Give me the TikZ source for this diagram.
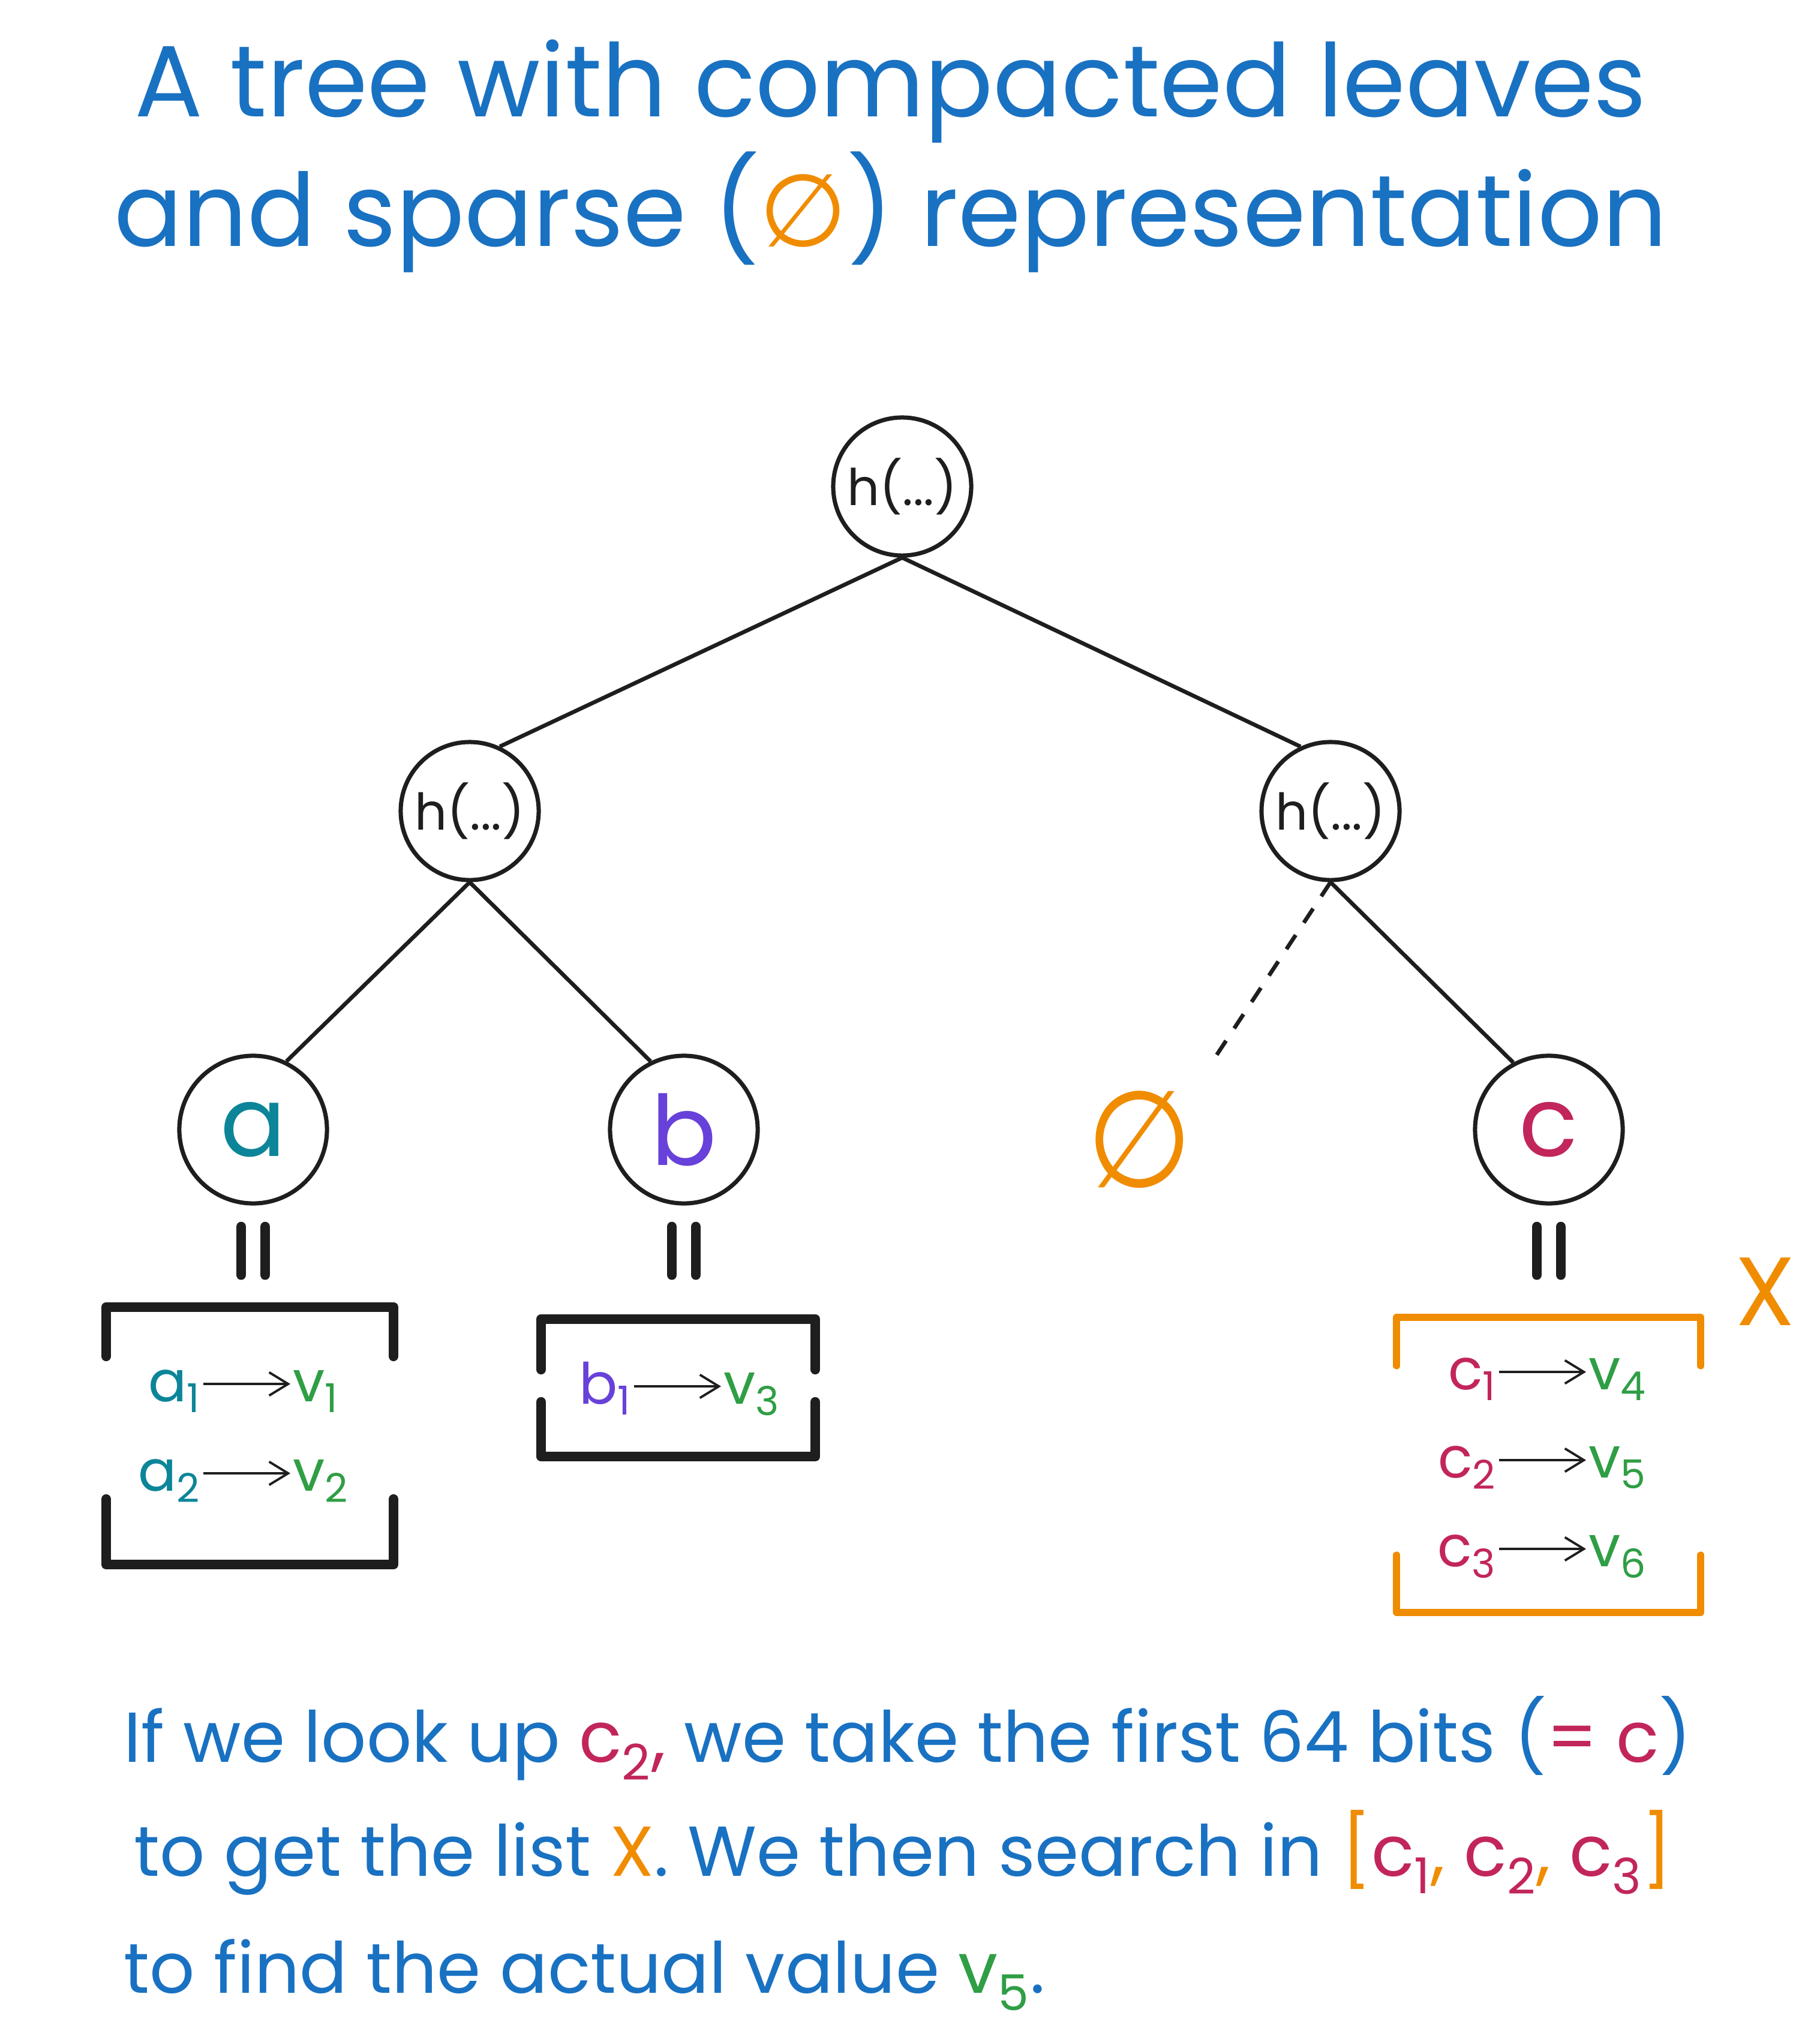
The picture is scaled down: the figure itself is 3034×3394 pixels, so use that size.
\documentclass[tikz,border=0pt]{standalone}
\usepackage{fontspec}
\setmainfont{Poppins}
\newfontfamily\dejavu{DejaVu Sans}
\usetikzlibrary{positioning,arrows.meta}
\definecolor{inkblue}{HTML}{1971C2}
\definecolor{inkorange}{HTML}{F08C00}
\definecolor{inkteal}{HTML}{0C8599}
\definecolor{inkviolet}{HTML}{6741D9}
\definecolor{inkred}{HTML}{C2255C}
\definecolor{inkgreen}{HTML}{2F9E44}
\definecolor{ink}{HTML}{1E1E1E}
\newcommand{\titlesize}{\fontsize{48}{58}\selectfont}
\newcommand{\notesize}{\fontsize{33.5}{40}\selectfont}
\newcommand{\leafsize}{\fontsize{46}{54}\selectfont}
\newcommand{\hashsize}{\fontsize{24}{28}\selectfont}
\newcommand{\rowsize}{\fontsize{27}{32}\selectfont}
\newcommand{\nullsym}{{\dejavu ∅}}
\tikzset{
  hashnode/.style={circle, draw=ink, line width=2pt, minimum size=2.3cm,
                   inner sep=0pt, font=\hashsize, text=ink},
  leafnode/.style={hashnode, minimum size=2.46cm, font=\leafsize},
  emptynode/.style={inner sep=0pt, font=\fontsize{64}{70}\selectfont\dejavu, text=inkorange, xscale=0.9},
  edge/.style={draw=ink, line width=1.9pt},
  dashline/.style={edge, dash pattern=on 8pt off 7pt},
  eqbar/.style={draw=ink, line width=4.8pt, line cap=round},
  bracket/.style={draw=ink, line width=4.6pt, line cap=round, line join=round},
  xbracket/.style={bracket, draw=inkorange, line width=3.2pt},
  rowtext/.style={inner sep=1pt, font=\rowsize},
  maparrow/.style={draw=ink, line width=1.1pt, -{Straight Barb[length=9pt, width=11pt]}},
  headline/.style={anchor=base, font=\titlesize, text=inkblue, inner sep=0pt},
  note/.style={anchor=base west, font=\notesize, text=inkblue, inner sep=0pt},
}
\begin{document}
\begin{tikzpicture}[x=0.01cm, y=-0.01cm]
  \fill[white] (0,0) rectangle (3034,3394);
  \useasboundingbox (0,0) rectangle (3034,3394);

  % title
  \node[headline] (title1) at (1485, 195) {A tree with compacted leaves};
  \node[headline] (title2) at (1485, 411) {and sparse ({\color{inkorange}\nullsym}) representation};

  % tree
  \node[hashnode] (root) at (1504, 811) {h(...)};
  \node[hashnode] (hl) at (783, 1352) {h(...)};
  \node[hashnode] (hr) at (2218, 1352) {h(...)};
  \node[leafnode, text=inkteal] (la) at (422, 1883) {a};
  \node[leafnode, text=inkviolet] (lb) at (1140, 1883) {b};
  \node[emptynode] (le) at (1900, 1900) {∅};
  \node[leafnode, text=inkred] (lc) at (2582, 1883) {c};

  \draw[edge] (root.south) -- (hl.65);
  \draw[edge] (root.south) -- (hr.115);
  \draw[edge] (hl.south) -- (la.64);
  \draw[edge] (hl.south) -- (lb.116);
  \draw[dashline, shorten >=0.5cm] (hr.south) -- (le.north east);
  \draw[edge] (hr.south) -- (lc.118);

  % equal signs under the leaves
  \foreach \leaf in {la, lb, lc} {
    \draw[eqbar] ([xshift=-0.2cm, yshift=-1.62cm]\leaf.center) -- ++(0,80);
    \draw[eqbar] ([xshift=0.2cm, yshift=-1.62cm]\leaf.center) -- ++(0,80);
  }

  % compacted lists
  \draw[bracket] (177,2261) -- (177,2179) -- (656,2179) -- (656,2261);
  \draw[bracket] (177,2499) -- (177,2608) -- (656,2608) -- (656,2499);
  \draw[bracket] (902,2283) -- (902,2199) -- (1359,2199) -- (1359,2283);
  \draw[bracket] (902,2337) -- (902,2428) -- (1359,2428) -- (1359,2337);
  \draw[xbracket] (2328,2277) -- (2328,2196) -- (2835,2196) -- (2835,2277);
  \draw[xbracket] (2328,2592) -- (2328,2688) -- (2835,2688) -- (2835,2592);
  \node[font=\fontsize{46}{50}\selectfont, text=inkorange] (xlabel) at (2943, 2153) {X};

  \foreach \nm/\px/\py/\kl/\kc/\ki/\vi in {
      a1/409/2307/a/inkteal/1/1, a2/409/2456/a/inkteal/2/2,
      b1/1127/2311/b/inkviolet/1/3,
      c1/2569/2287/c/inkred/1/4, c2/2569/2434/c/inkred/2/5,
      c3/2569/2582/c/inkred/3/6} {
    \coordinate (\nm) at (\px,\py);
    \node[rowtext, text=\kc, anchor=mid east] (\nm-k) at ([xshift=-0.7cm, yshift=-0.2cm]\nm) {\kl\textsubscript{\ki}};
    \node[rowtext, text=inkgreen, anchor=mid west] (\nm-v) at ([xshift=0.75cm, yshift=-0.2cm]\nm) {v\textsubscript{\vi}};
    \draw[maparrow] (\nm-k.east |- \nm) -- (\nm-v.west |- \nm);
  }

  % explanation
  \node[note] (note1) at (206, 2937) {If we look up {\color{inkred}c\textsubscript{2},} we take the first 64 bits ({\color{inkred}= c})};
  \node[note] (note2) at (223, 3127) {to get the list {\color{inkorange}X}. We then search in {\color{inkorange}[}{\color{inkred}c\textsubscript{1}}{\color{inkorange},} {\color{inkred}c\textsubscript{2}}{\color{inkorange},} {\color{inkred}c\textsubscript{3}}{\color{inkorange}]}};
  \node[note] (note3) at (206, 3322) {to find the actual value {\color{inkgreen}v\textsubscript{5}}.};
\end{tikzpicture}
\end{document}
